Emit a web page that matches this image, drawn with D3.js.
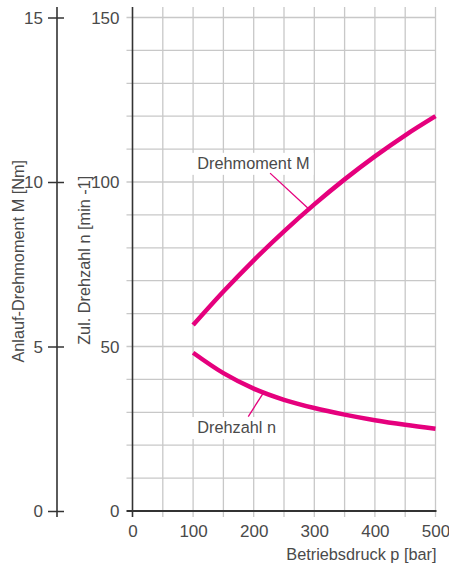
<!DOCTYPE html>
<html><head><meta charset="utf-8">
<script src="https://cdn.jsdelivr.net/npm/d3@7"></script>
<style>
html,body{margin:0;padding:0;background:#fff;}
text{font-family:"Liberation Sans",Arial,Helvetica,sans-serif;}
</style></head>
<body><svg id="c" width="449" height="567"></svg>
<script>
// Data
const pressure = [100,150,200,250,300,350,400,450,500];
const torqueM  = [5.65,6.67,7.62,8.50,9.32,10.08,10.78,11.42,12.0]; // Nm
const speedN   = [48.1,41.9,37.2,33.8,31.3,29.3,27.6,26.2,25.0];     // min-1
const xTicks = [0,100,200,300,400,500];
const nTicks = [0,50,100,150];
const mTicks = [0,5,10,15];
const labelM = {text:"Drehmoment M", at:[107,104], from:[227,102.7], to:[291,91.8]};
const labelN = {text:"Drehzahl n", at:[107,23.7], from:[191,28.7], to:[216,35.9]};

const svg = d3.select("#c");
const L = 132.5, R = 435.5, T = 17.5, B = 511, TOP = 7;
const x = d3.scaleLinear().domain([0,500]).range([L,R]);
const yN = d3.scaleLinear().domain([0,150]).range([B,T]);
const yM = d3.scaleLinear().domain([0,15]).range([B,T]);
const grid = "#c8c8c8", axisC = "#333", txt = "#4a4a4a", mag = "#e5007d";

const g = svg.append("g");
g.selectAll(".hg").data(d3.range(10,151,10)).join("line")
  .attr("x1",L-6).attr("x2",R).attr("y1",d=>yN(d)).attr("y2",d=>yN(d))
  .attr("stroke",grid).attr("stroke-width",1.3);
g.selectAll(".vg").data(d3.range(50,501,50)).join("line")
  .attr("x1",d=>x(d)).attr("x2",d=>x(d)).attr("y1",TOP).attr("y2",B+6)
  .attr("stroke",grid).attr("stroke-width",1.3);

g.append("line").attr("x1",L).attr("x2",L).attr("y1",TOP).attr("y2",B+6).attr("stroke",axisC).attr("stroke-width",1.6);
g.append("line").attr("x1",L-6).attr("x2",R+1).attr("y1",B).attr("y2",B).attr("stroke",axisC).attr("stroke-width",2);

const nAxis = svg.append("g").attr("transform",`translate(${L-13},0)`)
  .call(d3.axisLeft(yN).tickValues(nTicks).tickSize(0).tickPadding(0));
nAxis.select(".domain").remove();
nAxis.selectAll("text").attr("font-size",17).attr("fill",txt).attr("dy","0.35em");

const OX = 57;
const mAxis = svg.append("g").attr("transform",`translate(${OX},0)`)
  .call(d3.axisLeft(yM).tickValues(mTicks).tickSize(9).tickPadding(5));
mAxis.select(".domain").remove();
mAxis.selectAll(".tick line").attr("x1",7).attr("x2",-9).attr("stroke",axisC).attr("stroke-width",1.5);
mAxis.selectAll("text").attr("font-size",17).attr("fill",txt).attr("dy","0.35em");
svg.append("line").attr("x1",OX).attr("x2",OX).attr("y1",TOP).attr("y2",B+6).attr("stroke",axisC).attr("stroke-width",1.6);

const xAxis = svg.append("g").attr("transform",`translate(0,${B})`)
  .call(d3.axisBottom(x).tickValues(xTicks).tickSize(0).tickPadding(0));
xAxis.select(".domain").remove();
xAxis.selectAll("text").attr("font-size",17).attr("fill",txt).attr("dy","26px");

svg.append("text").attr("x",R+1).attr("y",560).attr("text-anchor","end")
  .attr("font-size",16.3).attr("fill",txt).text("Betriebsdruck p [bar]");
svg.append("text").attr("transform",`translate(24,${(T+B)/2-3}) rotate(-90)`).attr("text-anchor","middle")
  .attr("font-size",16.3).attr("fill",txt).text("Anlauf-Drehmoment M [Nm]");
svg.append("text").attr("transform",`translate(90,${(T+B)/2-4}) rotate(-90)`).attr("text-anchor","middle")
  .attr("font-size",16.3).attr("fill",txt).text("Zul. Drehzahl n [min -1]");

const line = d3.line().curve(d3.curveCatmullRom.alpha(0.5));
svg.append("path").attr("d",line(pressure.map((p,i)=>[x(p),yM(torqueM[i])])))
  .attr("fill","none").attr("stroke",mag).attr("stroke-width",4.5);
svg.append("path").attr("d",line(pressure.map((p,i)=>[x(p),yN(speedN[i])])))
  .attr("fill","none").attr("stroke",mag).attr("stroke-width",4.5);

[labelM,labelN].forEach(a=>{
  const lg = svg.append("g");
  const rect = lg.append("rect").attr("fill","#fff");
  const t = lg.append("text").attr("x",x(a.at[0])).attr("y",yN(a.at[1]))
    .attr("font-size",16.3).attr("fill",txt).text(a.text);
  const bb = t.node().getBBox();
  rect.attr("x",bb.x-6).attr("y",bb.y-1).attr("width",bb.width+10).attr("height",bb.height+4);
  svg.append("line").attr("x1",x(a.from[0])).attr("y1",yN(a.from[1]))
    .attr("x2",x(a.to[0])).attr("y2",yN(a.to[1])).attr("stroke",mag).attr("stroke-width",1.3);
});
</script></body></html>
